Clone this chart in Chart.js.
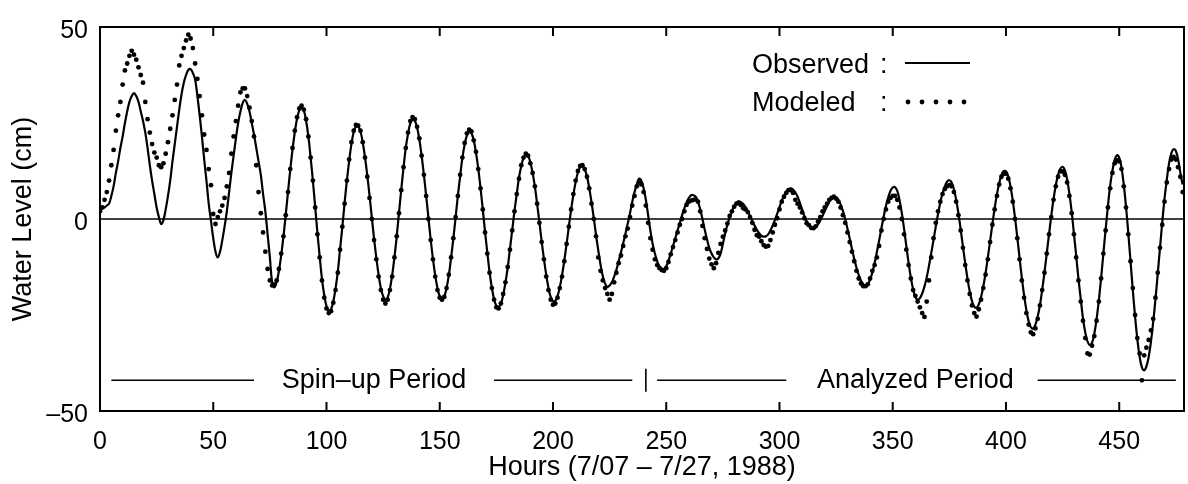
<!DOCTYPE html>
<html>
<head>
<meta charset="utf-8">
<script src="https://cdn.jsdelivr.net/npm/chart.js@4.4.1/dist/chart.umd.min.js"></script>
<style>
  html, body { margin: 0; padding: 0; background: #fff; }
</style>
</head>
<body>
<canvas id="grafico" width="1188" height="484"></canvas>
<script>
const observado = [
  3, 3, 3, 3.5, 4, 6, 8.5, 12, 15, 18.5,
  21.5, 25, 28, 30.5, 32, 32.8, 32, 30.5, 28, 25.5,
  22.5, 18.5, 14, 10, 6.5, 3, 0.5, -1.3, -0.3, 2.5,
  6, 10, 15, 19.5, 24, 28.5, 32.5, 35.5, 37.5, 38.8,
  39, 38, 36.3, 32, 27, 21.5, 15.5, 10, 4, -0.5,
  -5, -8.5, -10, -8.5, -5.5, -2, 2, 7, 12, 16.5,
  21, 25, 28, 30.2, 31, 30, 28, 25, 22, 18.5,
  15, 11.5, 6.5, 2, -4, -10, -16.5, -17.8, -16.4, -13.5,
  -9.5, -4.5, 1.1, 7, 12.8, 18.1, 22.6, 26.1, 28.3, 29,
  28.2, 25.6, 21.5, 16, 9.9, 3.2, -3.6, -9.8, -15.6, -19.8,
  -22.7, -24, -23.5, -21.5, -18.1, -13.7, -7.8, -2, 4.2, 10,
  15.1, 19.5, 22.6, 24.1, 24.1, 22.8, 20, 16.1, 11.4, 6.1,
  0.5, -5.1, -10.1, -14.5, -18, -20.1, -21, -20.4, -18.2, -14.6,
  -10, -4.5, 1.6, 7.6, 13.3, 18.5, 22.2, 24.9, 26, 25.6,
  23.8, 20.7, 16.5, 11.5, 6.1, 0.3, -5.3, -10.4, -14.7, -18,
  -20.1, -20.8, -20.1, -18, -14.7, -10.1, -5.1, 0.4, 6, 11.1,
  15.9, 19.4, 21.8, 22.8, 22.3, 20.5, 17.3, 13.2, 8.1, 2.5,
  -3.3, -8.7, -13.8, -17.9, -20.9, -22.6, -22.9, -22, -19.8, -16.6,
  -12.7, -7.8, -2.9, 2.1, 6.5, 10.8, 13.8, 15.9, 16.8, 16.4,
  14.8, 12, 8.5, 3.9, -0.9, -5.8, -10.4, -14.5, -17.9, -20.3,
  -21.4, -21.3, -20.1, -17.8, -14.6, -10.8, -6.5, -2, 2.4, 6.3,
  9.6, 12.1, 13.5, 13.9, 13, 11.1, 8.1, 4.4, 0.3, -4.1,
  -8.2, -11.9, -14.9, -16.8, -17.7, -17.3, -16.5, -15, -13.2, -11,
  -8.7, -6.3, -3.8, -1.2, 1.5, 4.5, 7, 9, 10.5, 10,
  8, 5, 1, -3, -6.5, -9, -11, -12.3, -12.9, -13,
  -12.3, -10.8, -9, -7, -5, -3, -1, 1, 2.8, 4.3,
  5.5, 6.2, 6.2, 5.8, 4.5, 2.5, 0, -2.8, -5.3, -7.5,
  -9, -10, -10.5, -10.3, -9, -6.5, -3.8, -1.5, 0.5, 2,
  3.3, 4.2, 4.6, 4.4, 3.9, 3.1, 2, 0.8, -0.5, -1.7,
  -2.8, -3.7, -4.3, -4.6, -4.5, -4, -3, -1.7, -0.2, 1.4,
  3.1, 4.7, 6.1, 7.1, 7.8, 8, 7.7, 6.9, 5.8, 4.2,
  2.5, 0.8, -0.6, -1.7, -2.4, -2.5, -2.1, -1.4, -0.4, 0.8,
  2.1, 3.4, 4.5, 5.2, 5.7, 5.6, 5, 3.8, 2.1, 0,
  -2.5, -5.1, -7.8, -10.4, -12.7, -14.6, -16.1, -17, -17.3, -16.9,
  -15.8, -13.9, -11.5, -8.6, -5.6, -2.4, 0.6, 3.4, 5.6, 7.3,
  8.2, 8.3, 7.3, 4.9, 1.6, -2.5, -7, -11.4, -15.3, -18.3,
  -20.3, -21, -20.6, -19.4, -17.6, -15.2, -12.2, -8.9, -5.5, -2,
  1.3, 4.3, 6.7, 8.5, 9.7, 10.1, 9.5, 7.8, 5, 1.5,
  -2.7, -7.2, -11.5, -15.5, -18.9, -21.4, -22.8, -23.1, -22.2, -20.3,
  -17.5, -14.1, -10, -5.7, -1.4, 2.8, 6.4, 9.3, 11.4, 12.5,
  12.4, 11.1, 8.5, 4.8, 0.3, -4.8, -10.1, -15.3, -19.9, -23.7,
  -26.6, -28.2, -28.5, -27.5, -25.4, -22.4, -18.4, -13.9, -9, -4,
  0.8, 5.2, 8.8, 11.5, 13.1, 13.6, 12.7, 10.3, 6.6, 1.9,
  -3.8, -9.6, -15.5, -20.8, -25.9, -29.5, -31.9, -32.8, -32.2, -29.9,
  -26.1, -21.2, -15.4, -9, -2.7, 3.3, 8.7, 12.6, 15.4, 16.6,
  16, 13.4, 9, 3.2, -3.6, -11.1, -18.5, -25.4, -31.3, -35.8,
  -38.6, -39.4, -38.4, -35.9, -32, -26.8, -20.9, -14.3, -7.5, -0.9,
  5.3, 10.2, 14.5, 17.1, 18.2, 17.7, 15.5, 12, 9
];

// nivel d'agua do modelo (cm), mesmas horas (os pontinhos)
const modelado = [
  2, 3, 5, 7, 10, 14, 18, 23, 27, 30.5,
  35, 38.7, 40.5, 42.5, 43.8, 42.8, 41.5, 39.5, 37.5, 35.5,
  30.5, 26, 22.5, 19.5, 17.3, 16, 14, 13.5, 14.5, 17,
  20, 23.5, 27, 31, 35, 40, 42.5, 44.5, 46.5, 48,
  47, 44.5, 40.5, 36.5, 32, 27, 22, 18, 13, 8.8,
  1.3, -1.3, 0.5, 2, 3.5, 5.5, 8.5, 12, 17, 21.5,
  25.5, 29.5, 33, 34, 34, 32, 29, 25.5, 21.5, 14,
  7, 1.5, -3.5, -8.5, -13, -16, -17.3, -17, -16, -13,
  -9, -4.5, 1, 7, 13, 18.5, 23, 26.5, 28.8, 29.5,
  28.5, 26, 21.5, 16, 10, 3, -4, -10, -16, -20.5,
  -23.3, -24.5, -24, -21.8, -18.5, -14, -8, -2, 4, 10,
  15.5, 20, 23, 24.5, 24.3, 23, 20, 16, 11, 5.5,
  0, -5.5, -10.5, -15, -18.5, -21, -22, -21, -18.5, -15,
  -10, -4.5, 1.5, 7.5, 13.5, 18.5, 22.5, 25.5, 26.5, 26,
  24, 21, 16.5, 11.5, 6, 0, -5.5, -10.5, -15, -18.5,
  -20.5, -21, -20.3, -18, -14.5, -10, -5, 0.5, 6, 11.5,
  16, 19.8, 22.3, 23.3, 22.8, 20.5, 17.5, 13, 8, 2.5,
  -3.5, -9, -14, -18, -21, -23, -23.3, -22, -19.5, -16.5,
  -12.5, -8, -3, 2, 6.5, 10.5, 14, 16, 17, 16.5,
  14.5, 12, 8.5, 4, -1, -6, -10.5, -15, -18.5, -21,
  -22.3, -22, -20.5, -18, -15, -11, -6.5, -2, 2.5, 6.5,
  10, 12.5, 13.8, 14, 13, 11, 8, 4, 0, -4.5,
  -10, -13.5, -16, -18, -19.5, -21, -19.5, -16.5, -14, -11.5,
  -9.5, -7, -4.5, -2.5, 0.5, 3.5, 6, 8.5, 9.5, 9,
  7, 3.5, -1, -5, -8, -10.5, -12, -12.8, -13.3, -13.5,
  -12.8, -11.2, -9.2, -7.3, -5.5, -3.5, -1.5, 0, 2, 3.7,
  4.5, 4.8, 5, 5.1, 4.5, 2, -1.8, -5, -7.8, -10.3,
  -11.8, -12.8, -11.5, -8.8, -6.5, -4.6, -3, -1.2, 0.8, 2,
  3.2, 4, 4.2, 3.6, 2.8, 2.5, 1.8, 0.5, -1, -2.8,
  -4.2, -4.6, -5.8, -6.8, -7.2, -7, -5.5, -3.5, -1.5, 0.2,
  2.5, 4.5, 5.8, 6.8, 7.5, 7.5, 6.8, 5, 4, 3,
  1.7, 0.2, -1.1, -1.6, -2.3, -2.4, -1.9, -0.7, 0.5, 2,
  3, 4, 5, 5.5, 5.8, 5.3, 4.5, 3, 1, -1,
  -3.5, -6, -8.5, -11, -13.5, -15.5, -16.8, -17.5, -17.5, -17,
  -15.5, -13.5, -12, -10, -7, -3, 0, 2.5, 4.5, 5.5,
  6, 6, 5, 3, 0, -4, -8, -12, -15.5, -18.5,
  -20, -21.5, -23, -24.5, -25.5, -21.5, -16, -10, -5, -1,
  2, 4.5, 6.5, 7.8, 8.5, 8.8, 8.5, 7, 4.5, 1,
  -3, -7.5, -12, -16, -19.5, -22.5, -24.5, -25.4, -23.5, -21,
  -18, -14.5, -10.5, -6, -1.5, 2.5, 6, 9, 11, 11.8,
  11.8, 10.5, 8, 4.5, 0, -5, -10.5, -16, -20.5, -24.5,
  -27.5, -29.5, -30, -28.5, -26, -22.5, -18.5, -14, -9, -4,
  0.5, 5, 8.5, 11, 12.4, 12.4, 11.5, 9.5, 6, 1.5,
  -4, -10, -16, -21.5, -26.5, -31, -35, -35.3, -33, -30.5,
  -26.5, -21.5, -15.5, -9, -3, 3, 8, 12, 14.5, 15.3,
  15, 13, 8.5, 3, -4, -11, -18, -25, -31, -35,
  -42, -35.5, -33.5, -31.5, -29, -26, -20.5, -14, -7.5, -1.5,
  4.5, 9.5, 13, 15.5, 16.2, 15.5, 13.5, 11, 7
];

const horasTicks = [0, 50, 100, 150, 200, 250, 300, 350, 400, 450]; // rotulos do eixo x
const nivelTicks = [-50, 0, 50]; // rotulos do eixo y

const horas = observado.map((_, i) => i); // uma leitura por hora
const fonte = '"Liberation Sans", Arial, sans-serif';

// moldura, linha do zero, marcas internas, periodos e legenda
const moldura = {
  id: 'moldura',
  afterDatasetsDraw(chart) {
    const { ctx, chartArea: a, scales: { x, y } } = chart;
    ctx.save();
    ctx.strokeStyle = '#000';
    ctx.fillStyle = '#000';

    // linha do zero
    const y0 = y.getPixelForValue(0);
    ctx.lineWidth = 1.6;
    ctx.beginPath();
    ctx.moveTo(a.left, y0);
    ctx.lineTo(a.right, y0);
    ctx.stroke();

    // caixa do grafico
    ctx.lineWidth = 2;
    ctx.strokeRect(a.left, a.top, a.right - a.left, a.bottom - a.top);

    // marcas para dentro em cima e embaixo
    horasTicks.slice(1).forEach(h => {
      const px = x.getPixelForValue(h);
      ctx.beginPath();
      ctx.moveTo(px, a.bottom);
      ctx.lineTo(px, a.bottom - 9);
      ctx.moveTo(px, a.top);
      ctx.lineTo(px, a.top + 9);
      ctx.stroke();
    });

    // periodos (spin-up / analyzed)
    const yp = y.getPixelForValue(-42);
    ctx.lineWidth = 1.6;
    [[5, 68], [174, 235], [246, 303], [414, 475]].forEach(([h1, h2]) => {
      ctx.beginPath();
      ctx.moveTo(x.getPixelForValue(h1), yp);
      ctx.lineTo(x.getPixelForValue(h2), yp);
      ctx.stroke();
    });
    const xd = x.getPixelForValue(241);
    ctx.beginPath();
    ctx.moveTo(xd, y.getPixelForValue(-39));
    ctx.lineTo(xd, y.getPixelForValue(-45));
    ctx.stroke();

    ctx.font = '27px ' + fonte;
    ctx.textAlign = 'center';
    ctx.textBaseline = 'middle';
    ctx.fillText('Spin–up Period', x.getPixelForValue(121), yp);
    ctx.fillText('Analyzed Period', x.getPixelForValue(360), yp);

    // legenda
    ctx.textAlign = 'left';
    ctx.textBaseline = 'alphabetic';
    ctx.fillText('Observed', 752, 73);
    ctx.fillText(':', 880, 73);
    ctx.fillText('Modeled', 752, 111);
    ctx.fillText(':', 880, 111);
    ctx.lineWidth = 2;
    ctx.beginPath();
    ctx.moveTo(905, 63);
    ctx.lineTo(970, 63);
    ctx.stroke();
    for (let i = 0; i < 5; i++) {
      ctx.beginPath();
      ctx.arc(908 + i * 14, 102, 2.4, 0, Math.PI * 2);
      ctx.fill();
    }
    ctx.restore();
  }
};

new Chart(document.getElementById('grafico'), {
  type: 'line',
  data: {
    datasets: [
      {
        label: 'Observed',
        data: horas.map((h, i) => ({ x: h, y: observado[i] })),
        borderColor: '#000',
        borderWidth: 2.2,
        pointRadius: 0,
        tension: 0.4,
        fill: false
      },
      {
        label: 'Modeled',
        data: horas.map((h, i) => ({ x: h, y: modelado[i] })),
        showLine: false,
        pointRadius: 2.4,
        pointBorderWidth: 0,
        pointBackgroundColor: '#000',
        borderColor: '#000'
      }
    ]
  },
  options: {
    responsive: false,
    devicePixelRatio: 1,
    animation: false,
    layout: { padding: { top: 16, right: 3, left: 0, bottom: 0 } },
    plugins: {
      legend: { display: false },
      tooltip: { enabled: false }
    },
    scales: {
      x: {
        type: 'linear',
        min: 0,
        max: 478.6,
        afterFit: s => { s.height = 73; },
        afterBuildTicks: s => { s.ticks = horasTicks.map(v => ({ value: v })); },
        grid: { display: false, drawTicks: false },
        border: { display: false },
        ticks: { color: '#000', font: { size: 25, family: fonte }, padding: 16, maxRotation: 0, autoSkip: false },
        title: {
          display: true,
          text: 'Hours (7/07 – 7/27, 1988)',
          color: '#000',
          font: { size: 27, family: fonte },
          padding: { top: 0, bottom: 0 }
        }
      },
      y: {
        min: -50,
        max: 50,
        afterFit: s => { s.width = 100; },
        afterBuildTicks: s => { s.ticks = nivelTicks.map(v => ({ value: v })); },
        grid: { display: false, drawTicks: false },
        border: { display: false },
        ticks: {
          color: '#000',
          font: { size: 25, family: fonte },
          padding: 12,
          labelOffset: 4,
          callback: v => (v < 0 ? '–' + Math.abs(v) : String(v)) // traço maior no -50
        },
        title: {
          display: true,
          text: 'Water Level (cm)',
          color: '#000',
          font: { size: 27, family: fonte },
          padding: { top: 7, bottom: 0 }
        }
      }
    }
  },
  plugins: [moldura]
});
</script>
</body>
</html>
